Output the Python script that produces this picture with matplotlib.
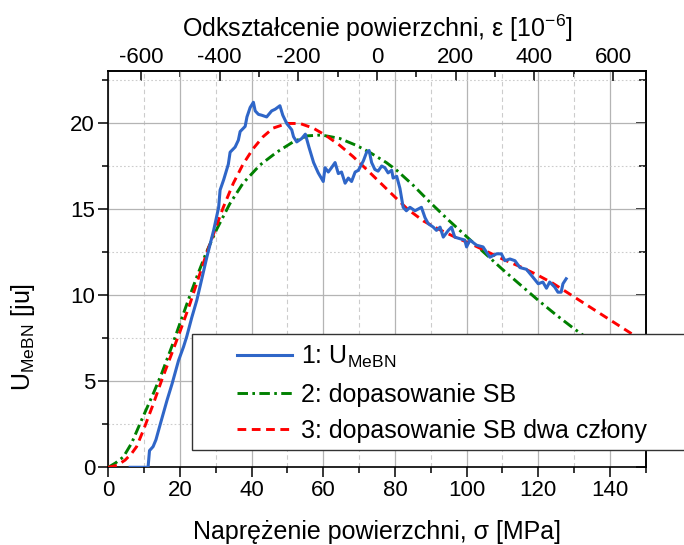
import matplotlib.pyplot as plt
from matplotlib.patches import Rectangle
from matplotlib.ticker import MultipleLocator

plt.rcParams['font.family'] = ['Liberation Sans', 'DejaVu Sans']
plt.rcParams['mathtext.fontset'] = 'custom'
plt.rcParams['mathtext.rm'] = 'Liberation Sans'
plt.rcParams['mathtext.it'] = 'Liberation Sans:italic'
plt.rcParams['axes.unicode_minus'] = False

# measured U_MeBN vs surface stress
stress = [6.1, 11.1, 11.5, 12.5, 13.3, 14.5, 16.4, 17.8, 19.6, 21.0, 21.9, 23.3, 24.7, 25.6,
          27.5, 29.4, 30.8, 31.2, 32.2, 33.5, 34.0, 35.4, 36.3, 36.8, 38.2, 38.7, 39.6, 40.5,
          41.0, 41.9, 42.8, 44.2, 45.6, 46.6, 47.9, 48.7, 49.8, 51.2, 51.7, 52.6, 54.0, 55.0,
          56.0, 57.3, 58.6, 60.0, 60.5, 61.4, 62.3, 63.3, 64.2, 65.1, 66.1, 67.0, 67.9, 68.9,
          69.8, 71.2, 72.1, 72.8, 73.5, 74.4, 75.3, 76.3, 77.2, 78.1, 79.1, 79.5, 80.5, 81.4,
          82.3, 83.2, 84.2, 85.6, 87.4, 88.4, 89.3, 90.7, 91.6, 92.6, 93.5, 94.9, 95.8, 96.7,
          98.1, 99.5, 100.0, 100.9, 102.8, 104.6, 106.5, 108.4, 109.7, 110.7, 112.1, 113.5,
          114.9, 116.7, 118.1, 120.0, 121.3, 122.3, 123.2, 124.6, 125.5, 126.4, 126.9, 127.8]
u_mebn = [0.0, 0.0, 0.97, 1.2, 1.6, 2.5, 3.9, 4.85, 6.2, 7.0, 7.6, 8.7, 9.7, 10.5,
          12.2, 13.76, 15.1, 16.1, 16.7, 17.6, 18.3, 18.6, 19.0, 19.5, 19.8, 20.35, 20.9, 21.2,
          20.7, 20.5, 20.45, 20.35, 20.7, 20.8, 21.0, 20.45, 19.97, 19.6, 19.2, 18.9, 19.1, 19.35,
          18.6, 17.7, 17.1, 16.6, 17.4, 17.15, 17.4, 17.7, 17.06, 17.15, 16.5, 16.8, 16.6, 17.15,
          17.25, 17.8, 18.3, 18.4, 17.7, 17.3, 17.2, 17.5, 17.4, 17.1, 17.25, 16.8, 16.9, 16.2,
          15.1, 14.9, 15.1, 14.9, 15.1, 14.5, 14.15, 13.95, 13.76, 13.95, 13.37, 13.76, 13.95, 13.37,
          13.28, 13.2, 12.8, 13.2, 12.9, 12.8, 12.2, 12.4, 12.4, 12.0, 12.1, 12.0,
          11.6, 11.5, 11.15, 10.66, 10.76, 10.4, 10.76, 10.47, 10.17, 10.17, 10.66, 10.95]

# SB fit
sb_x = [0, 2.0, 4.2, 6.5, 9.3, 12.6, 14.9, 17.7, 20.0, 22.3, 24.7, 27.4, 30.2, 33.9, 37.6,
        42.3, 47.0, 51.6, 55.5, 59.5, 64.6, 69.2, 72.9, 77.6, 80.5, 85.0, 90.0, 95.0, 100.0,
        105.0, 110.0, 115.0, 120.0, 125.0, 130.0, 135.0, 140.0]
sb_y = [0, 0.25, 0.6, 1.4, 2.75, 4.3, 5.45, 7.0, 8.36, 9.7, 11.06, 12.5, 13.8, 15.3, 16.5,
        17.55, 18.3, 18.9, 19.25, 19.3, 19.1, 18.7, 18.3, 17.7, 17.25, 16.4, 15.35, 14.35, 13.4,
        12.45, 11.5, 10.6, 9.7, 8.85, 8.05, 7.3, 6.6]

# SB fit, two terms
sb2_x = [0, 2.5, 4.7, 6.5, 7.9, 9.8, 12.6, 14.9, 17.7, 20.5, 22.8, 24.7, 27.4, 29.8, 32.1,
         34.9, 37.6, 40.4, 43.2, 46.0, 49.8, 53.5, 57.2, 60.9, 64.6, 68.3, 72.1, 75.8, 79.5,
         83.5, 88.0, 92.5, 97.0, 101.5, 106.0, 110.5, 115.0, 119.5, 124.0, 128.5, 133.0,
         137.5, 142.0, 146.5, 150.0]
sb2_y = [0, 0.12, 0.42, 0.8, 1.2, 2.16, 3.7, 5.06, 6.6, 8.16, 9.5, 10.7, 12.4, 13.8, 15.1,
         16.5, 17.6, 18.5, 19.2, 19.7, 19.97, 19.97, 19.7, 19.25, 18.7, 18.05, 17.3, 16.55, 15.8,
         15.0, 14.3, 13.8, 13.35, 12.95, 12.5, 12.05, 11.65, 11.2, 10.7, 10.1, 9.5,
         8.9, 8.3, 7.7, 7.2]

strain_ticks = [-600, -400, -200, 0, 200, 400, 600]

SIGMA0 = 75.0         # MPa at zero strain
STRAIN_PER_MPA = 9.1  # 1e-6 per MPa


def to_strain(s):
    return (s - SIGMA0) * STRAIN_PER_MPA


def to_stress(e):
    return e / STRAIN_PER_MPA + SIGMA0


W, H = 684, 545
fig = plt.figure(figsize=(W / 100, H / 100), dpi=100)
ax = fig.add_axes([108.3 / W, 1 - 467.3 / H, (645.7 - 108.3) / W, (467.3 - 71.3) / H])

l2, = ax.plot(sb_x, sb_y, color='#008000', lw=2.1, ls=(0, (3.6, 1.5, 0.9, 1.5)), zorder=3)
l3, = ax.plot(sb2_x, sb2_y, color='#ff0000', lw=2.1, ls=(0, (3.0, 1.9)), zorder=3)
l1, = ax.plot(stress, u_mebn, color='#2f66c8', lw=2.2, zorder=4)

ax.set_xlim(0, 150)
ax.set_ylim(0, 23)
ax.xaxis.set_major_locator(MultipleLocator(20))
ax.xaxis.set_minor_locator(MultipleLocator(10))
ax.yaxis.set_major_locator(MultipleLocator(5))
ax.yaxis.set_minor_locator(MultipleLocator(2.5))

ax.grid(which='major', color='#b4b4b4', lw=0.9, ls='-')
ax.xaxis.grid(True, which='minor', color='#cccccc', lw=0.8, ls=(0, (4, 3)))
ax.yaxis.grid(True, which='minor', color='#cccccc', lw=0.8, ls=(0, (1.5, 2)))
ax.set_axisbelow(True)

ax.tick_params(which='major', direction='out', length=7, width=1.1, labelsize=16, pad=2.5,
               top=False, right=False)
ax.tick_params(which='minor', direction='out', length=4, width=1.1, top=False, right=False)
for sp in ax.spines.values():
    sp.set_linewidth(1.2)

ax.set_xlabel('Naprężenie powierzchni, σ [MPa]', fontsize=18, labelpad=13)
ax.set_ylabel(r'U$_{\mathrm{MeBN}}$ [ju]', fontsize=18)
ax.yaxis.set_label_coords(-0.132, 0.33)

# strain scale on top
top = ax.secondary_xaxis('top', functions=(to_strain, to_stress))
top.set_xticks(strain_ticks)
top.xaxis.set_minor_locator(MultipleLocator(100))
top.tick_params(which='major', direction='in', length=7, width=1.1, labelsize=16, pad=2.5)
top.tick_params(which='minor', direction='in', length=4, width=1.1)
top.spines['top'].set_linewidth(1.2)
top.set_xlabel(r'Odkształcenie powierzchni, ε [10$^{-6}$]', fontsize=18, labelpad=7)

# inward ticks on the right
right = ax.secondary_yaxis('right')
right.yaxis.set_major_locator(MultipleLocator(5))
right.yaxis.set_minor_locator(MultipleLocator(2.5))
right.tick_params(which='major', direction='in', length=7, width=1.1, labelright=False)
right.tick_params(which='minor', direction='in', length=5, width=1.1)
right.spines['right'].set_linewidth(1.2)

# legend box runs past the right spine
box = Rectangle((191.5 / W, 1 - 450 / H), (700 - 191.5) / W, (450 - 334) / H,
                transform=fig.transFigure, facecolor='white', edgecolor='#333333',
                lw=1.0, zorder=5)
fig.add_artist(box)
leg = fig.legend([l1, l2, l3],
                 [r'1: U$_{\mathrm{MeBN}}$', '2: dopasowanie SB', '3: dopasowanie SB dwa człony'],
                 loc='upper left', bbox_to_anchor=(237 / W, 1 - 344 / H), frameon=False,
                 borderpad=0, borderaxespad=0, handlelength=2.2, handletextpad=0.36,
                 labelspacing=0.5, fontsize=18)
leg.set_zorder(6)

fig.savefig('out.png', dpi=100)
